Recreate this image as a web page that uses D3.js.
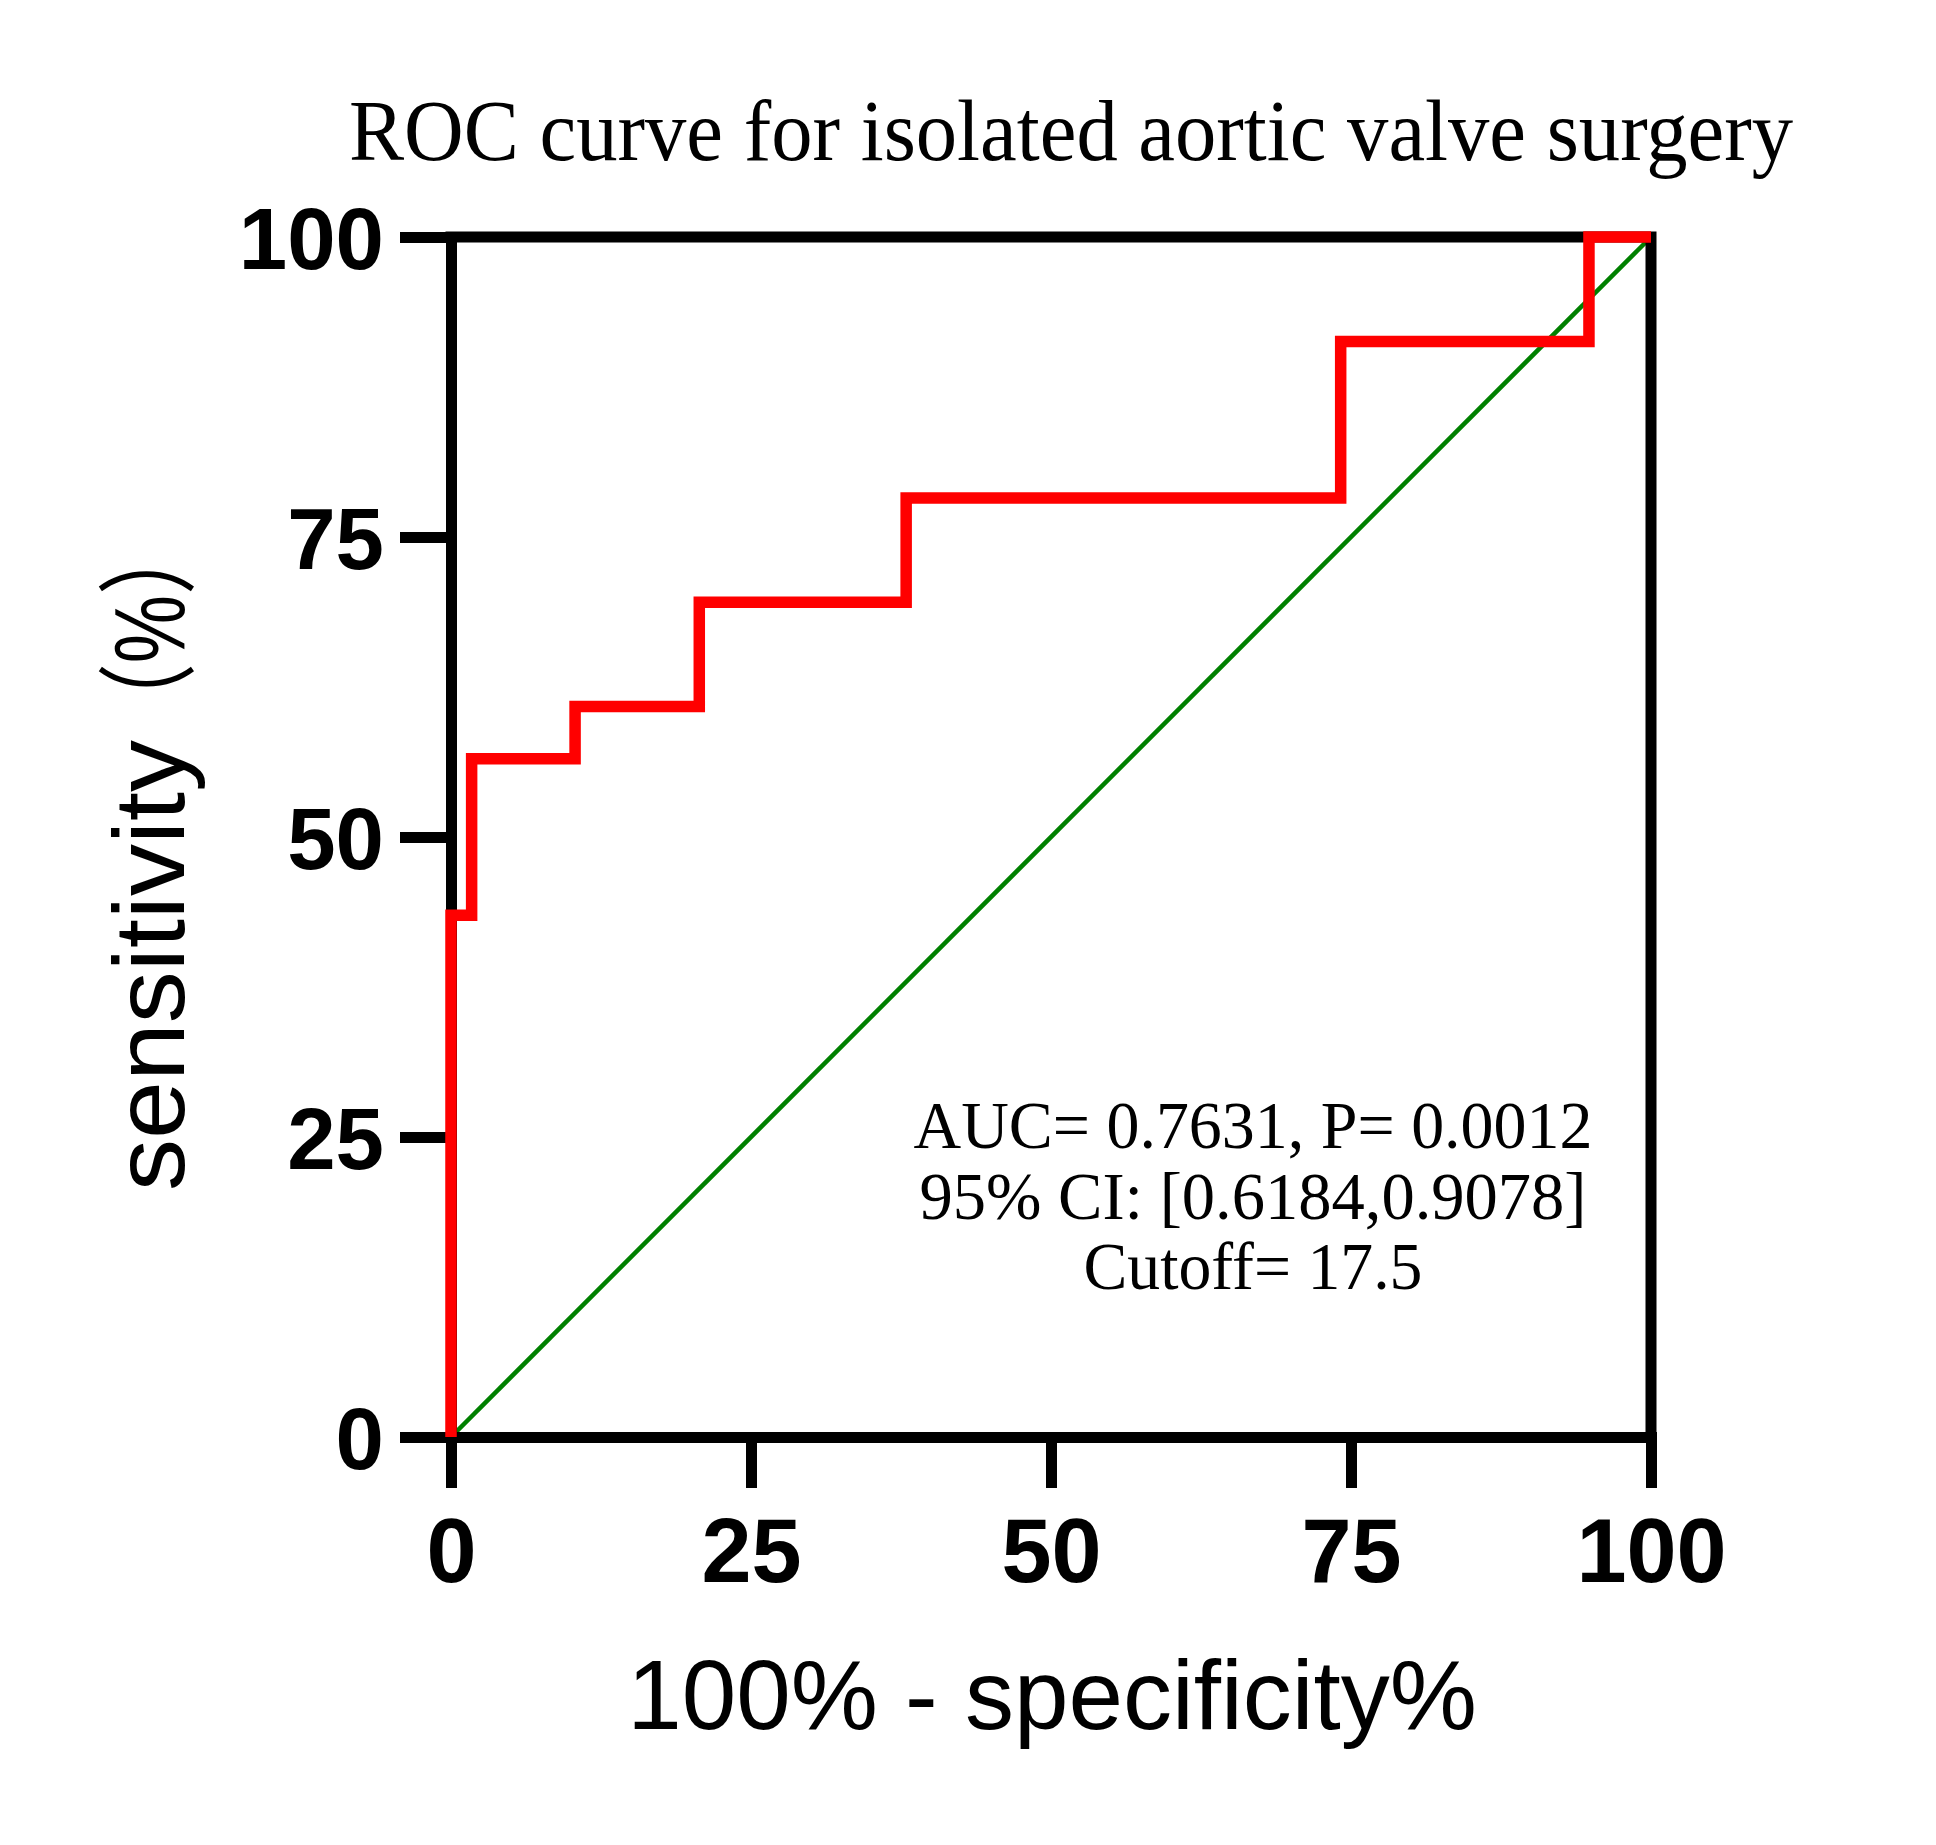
<!DOCTYPE html>
<html>
<head>
<meta charset="utf-8">
<style>
    body { margin: 0; background: #fff; }
    .tick text { font-family: "Liberation Sans", Arial, sans-serif; font-weight: bold; font-size: 90px; fill: #000; }
    .ttl { font-family: "Liberation Serif", "Times New Roman", serif; fill: #000; }
    .axlabel { font-family: "Liberation Sans", Arial, "Noto Sans CJK SC", sans-serif; fill: #000; }
</style>
<script src="https://cdn.jsdelivr.net/npm/d3@7"></script>
</head>
<body>
<svg id="chart" width="1936" height="1845"></svg>
<script>
    // ROC points (100% - specificity, sensitivity), steps
    var fpr = [0, 0, 1.72, 10.34, 20.69, 37.93, 74.14, 94.83, 100];
    var tpr = [0, 43.48, 56.52, 60.87, 69.57, 78.26, 91.30, 100, 100];
    var refX = [0, 100];
    var refY = [0, 100];
    var tickValues = [0, 25, 50, 75, 100];
    var title = "ROC curve for isolated aortic valve surgery";
    var xTitle = "100% - specificity%";
    var yTitleParts = ["sensitivity", "\uFF08%\uFF09"];
    var statLines = ["AUC= 0.7631, P= 0.0012", "95% CI: [0.6184,0.9078]", "Cutoff= 17.5"];

    var svg = d3.select("#chart");
    var plotLeft = 451, plotTop = 237, plotSize = 1200;

    var x = d3.scaleLinear().domain([0, 100]).range([plotLeft, plotLeft + plotSize]);
    var y = d3.scaleLinear().domain([0, 100]).range([plotTop + plotSize, plotTop]);

    // reference diagonal
    var ref = refX.map(function (v, i) { return [v, refY[i]]; });
    svg.append("path").datum(ref)
        .attr("fill", "none").attr("stroke", "#008000").attr("stroke-width", 4.5)
        .attr("d", d3.line().x(function (d) { return x(d[0]); }).y(function (d) { return y(d[1]); }));

    // frame (top + right)
    svg.append("path")
        .attr("d", "M" + x(0) + "," + y(100) + "H" + x(100) + "V" + y(0))
        .attr("fill", "none").attr("stroke", "#000").attr("stroke-width", 11)
        .attr("stroke-linecap", "square");

    var xAxis = d3.axisBottom(x).tickValues(tickValues).tickSize(51).tickPadding(30).tickSizeOuter(0);
    var yAxis = d3.axisLeft(y).tickValues(tickValues).tickSize(51).tickPadding(16).tickSizeOuter(0);

    var gx = svg.append("g").attr("transform", "translate(0," + y(0) + ")").call(xAxis);
    var gy = svg.append("g").attr("transform", "translate(" + x(0) + ",0)").call(yAxis);
    [gx, gy].forEach(function (g) {
        g.select(".domain").attr("stroke", "#000").attr("stroke-width", 11).attr("stroke-linecap", "square");
        g.selectAll(".tick line").attr("stroke", "#000").attr("stroke-width", 11);
    });
    gx.selectAll(".tick text").attr("dy", "0.71em");
    gy.selectAll(".tick text").attr("dy", "0.36em").style("font-size", "87px");

    // ROC curve
    var roc = fpr.map(function (v, i) { return [v, tpr[i]]; });
    svg.append("path").datum(roc)
        .attr("fill", "none").attr("stroke", "#ff0000").attr("stroke-width", 11.5)
        .attr("stroke-linejoin", "miter")
        .attr("d", d3.line().curve(d3.curveStepAfter).x(function (d) { return x(d[0]); }).y(function (d) { return y(d[1]); }));

    // titles
    svg.append("text").attr("class", "ttl")
        .attr("x", 349).attr("y", 160)
        .attr("font-size", 86)
        .attr("textLength", 1444).attr("lengthAdjust", "spacingAndGlyphs")
        .text(title);

    svg.append("text").attr("class", "axlabel")
        .attr("x", 1052).attr("y", 1729)
        .attr("text-anchor", "middle").attr("font-size", 98)
        .text(xTitle);

    var yt = svg.append("text").attr("class", "axlabel")
        .attr("transform", "translate(184,1191) rotate(-90)")
        .attr("font-size", 100);
    var partLen = [451, 222];
    yTitleParts.forEach(function (p, i) {
        yt.append("tspan")
            .attr("textLength", partLen[i]).attr("lengthAdjust", "spacingAndGlyphs")
            .text(p);
    });

    var widths = [679, 667, 339];
    var baselines = [1148, 1219, 1289];
    statLines.forEach(function (s, i) {
        svg.append("text").attr("class", "ttl")
            .attr("x", 1253).attr("y", baselines[i])
            .attr("text-anchor", "middle").attr("font-size", 68)
            .attr("textLength", widths[i]).attr("lengthAdjust", "spacingAndGlyphs")
            .text(s);
    });
</script>
</body>
</html>
